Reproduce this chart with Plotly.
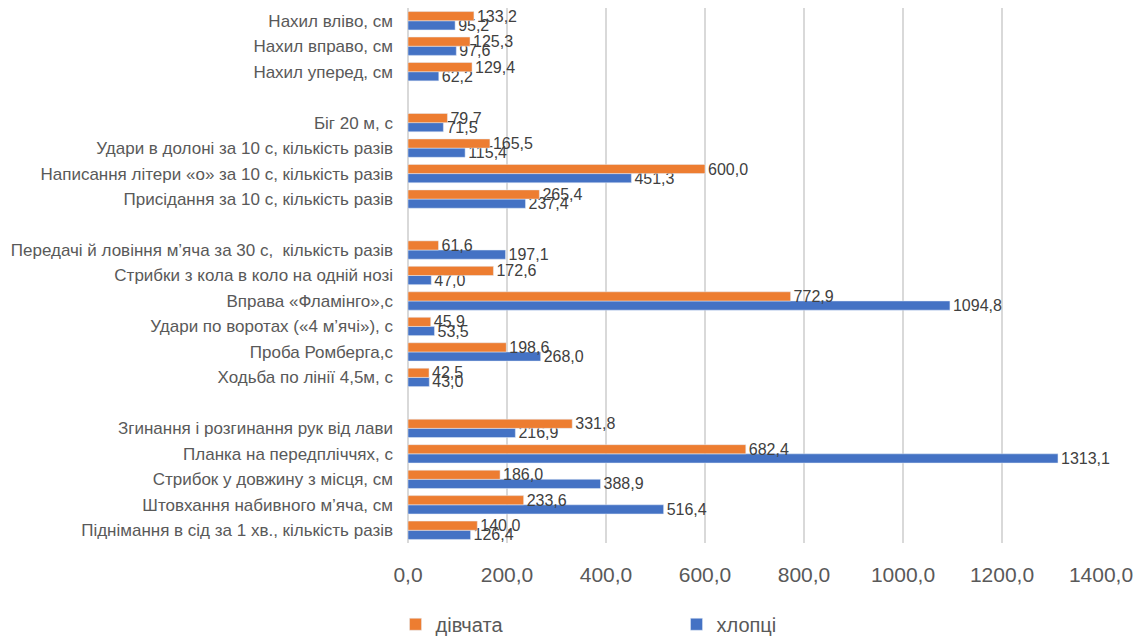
import plotly.graph_objects as go

# categories listed bottom-to-top; blank strings are visual gaps between groups
categories = [
    "Піднімання в сід за 1 хв., кількість разів",
    "Штовхання набивного м’яча, см",
    "Стрибок у довжину з місця, см",
    "Планка на передпліччях, с",
    "Згинання і розгинання рук від лави",
    " ",
    "Ходьба по лінії 4,5м, с",
    "Проба Ромберга,с",
    "Удари по воротах («4 м’ячі»), с",
    "Вправа «Фламінго»,с",
    "Стрибки з кола в коло на одній нозі",
    "Передачі й ловіння м’яча за 30 с,  кількість разів",
    "  ",
    "Присідання за 10 с, кількість разів",
    "Написання літери «о» за 10 с, кількість разів",
    "Удари в долоні за 10 с, кількість разів",
    "Біг 20 м, с",
    "   ",
    "Нахил уперед, см",
    "Нахил вправо, см",
    "Нахил вліво, см",
]
girls = [140.0, 233.6, 186.0, 682.4, 331.8, None,
         42.5, 198.6, 45.9, 772.9, 172.6, 61.6, None,
         265.4, 600.0, 165.5, 79.7, None,
         129.4, 125.3, 133.2]
boys = [126.4, 516.4, 388.9, 1313.1, 216.9, None,
        43.0, 268.0, 53.5, 1094.8, 47.0, 197.1, None,
        237.4, 451.3, 115.4, 71.5, None,
        62.2, 97.6, 95.2]
x_ticks = [0, 200, 400, 600, 800, 1000, 1200, 1400]
x_tick_labels = ["0,0", "200,0", "400,0", "600,0", "800,0", "1000,0", "1200,0", "1400,0"]


def fmt(v):
    return "" if v is None else f"{v:.1f}".replace(".", ",")


FONT = "'Liberation Sans', Arial, sans-serif"

fig = go.Figure()
fig.add_trace(go.Bar(
    name="хлопці", y=categories, x=boys, orientation="h",
    marker_color="#4472C4", text=[fmt(v) for v in boys],
    textposition="outside", cliponaxis=False, legendrank=2,
    constraintext="none",
    textfont=dict(color="#404040", size=16),
))
fig.add_trace(go.Bar(
    name="дівчата", y=categories, x=girls, orientation="h",
    marker_color="#ED7D31", text=[fmt(v) for v in girls],
    textposition="outside", cliponaxis=False, legendrank=1,
    constraintext="none",
    textfont=dict(color="#404040", size=16),
))

fig.update_layout(
    width=1139, height=637,
    margin=dict(l=408, r=38, t=8, b=94, autoexpand=False),
    barmode="group", bargap=0.28, bargroupgap=0,
    plot_bgcolor="white", paper_bgcolor="white",
    font=dict(family=FONT, color="#595959"),
    legend=dict(
        orientation="h", x=-0.018, xanchor="left",
        yref="container", y=0.02, yanchor="middle",
        font=dict(size=20, color="#595959"), entrywidth=236,
        itemwidth=30,
    ),
    xaxis=dict(
        range=[0, 1400], tickvals=x_ticks, ticktext=x_tick_labels,
        showgrid=True, gridcolor="#D9D9D9", gridwidth=2,
        zeroline=True, zerolinecolor="#D9D9D9", zerolinewidth=2,
        tickfont=dict(size=21, color="#595959"),
        ticklabelstandoff=17, showline=False, fixedrange=True,
    ),
    yaxis=dict(
        type="category", categoryorder="array", categoryarray=categories,
        tickfont=dict(size=17, color="#595959"),
        ticklabelstandoff=14, showgrid=False, showline=False,
        range=[-0.5, len(categories) - 0.5],
    ),
)

fig.write_html("out.html")
